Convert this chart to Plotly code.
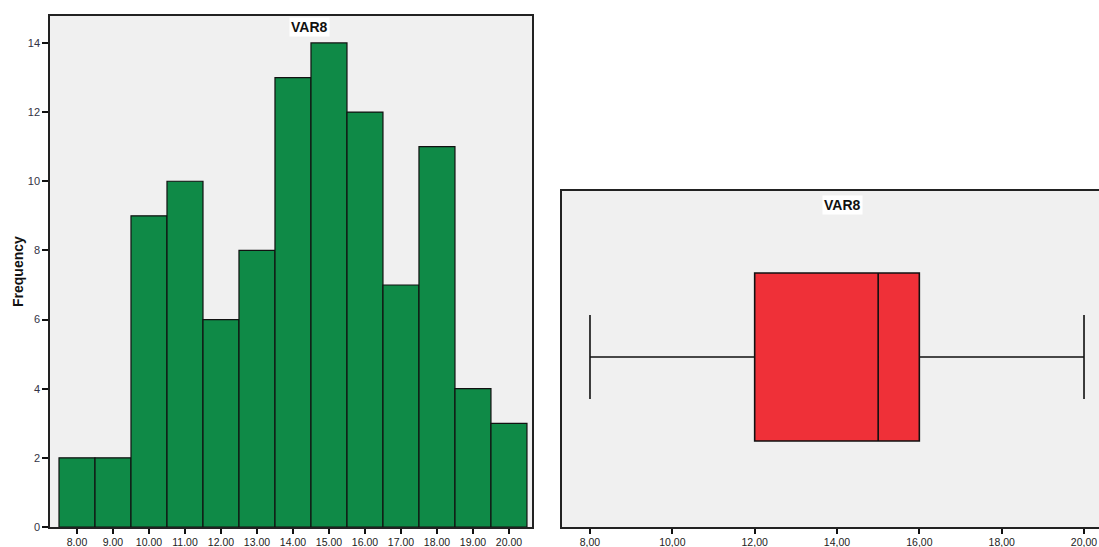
import plotly.graph_objects as go

# Histogram data
bin_centers = [8, 9, 10, 11, 12, 13, 14, 15, 16, 17, 18, 19, 20]
frequencies = [2, 2, 9, 10, 6, 8, 13, 14, 12, 7, 11, 4, 3]
hist_tick_labels = ["8.00", "9.00", "10.00", "11.00", "12.00", "13.00", "14.00",
                    "15.00", "16.00", "17.00", "18.00", "19.00", "20.00"]
y_ticks = [0, 2, 4, 6, 8, 10, 12, 14]

# Box plot summary
box_min = [8]
box_q1 = [12]
box_median = [15]
box_q3 = [16]
box_max = [20]
box_ticks = [8, 10, 12, 14, 16, 18, 20]
box_tick_labels = ["8,00", "10,00", "12,00", "14,00", "16,00", "18,00", "20,00"]

W, H = 1099, 547
def fx(px):
    return px / W
def fy(py):
    return (H - py) / H

fig = go.Figure()

fig.add_trace(go.Bar(
    x=bin_centers, y=frequencies, width=1,
    marker=dict(color="#0f8a47", line=dict(color="#111", width=1.2)),
    xaxis="x", yaxis="y", showlegend=False,
))

fig.add_trace(go.Box(
    y=[0], q1=box_q1, median=box_median, q3=box_q3,
    lowerfence=box_min, upperfence=box_max,
    orientation="h", width=1.0, whiskerwidth=0.5,
    fillcolor="#ef3038", line=dict(color="#111", width=1.6),
    xaxis="x2", yaxis="y2", showlegend=False, boxpoints=False,
))

font_family = "Liberation Sans, Arial, sans-serif"

common = dict(showgrid=False, zeroline=False, automargin=False,
              showline=True, linecolor="#222", linewidth=1.5, mirror=True)

fig.update_layout(
    width=W, height=H,
    margin=dict(l=0, r=0, t=0, b=0),
    paper_bgcolor="white",
    plot_bgcolor="#f0f0f0",
    font=dict(family=font_family, size=11, color="#222"),
    xaxis=dict(
        domain=[fx(50), fx(532)], anchor="y",
        range=[7.25, 20.64],
        tickmode="array", tickvals=bin_centers, ticktext=hist_tick_labels,
        ticks="outside", ticklen=5, tickwidth=2, tickcolor="#111",
        tickfont=dict(size=10.5, color="#222"),
        **common,
    ),
    yaxis=dict(
        domain=[fy(527), fy(16)], anchor="x",
        range=[0, 14.78],
        tickmode="array", tickvals=y_ticks,
        ticks="outside", ticklen=6, tickwidth=2, tickcolor="#111",
        tickfont=dict(size=11, color="#334"),
        **common,
    ),
    xaxis2=dict(
        domain=[fx(562), 1.0], anchor="y2",
        range=[7.32, 20.364],
        tickmode="array", tickvals=box_ticks, ticktext=box_tick_labels,
        ticks="outside", ticklen=5, tickwidth=2, tickcolor="#111",
        tickfont=dict(size=10.5, color="#222"),
        **common,
    ),
    yaxis2=dict(
        domain=[fy(527), fy(191)], anchor="x2",
        range=[-1.012, 0.988],
        showticklabels=False, ticks="",
        **common,
    ),
    annotations=[
        dict(text="<b>VAR8</b>", x=fx(309), y=fy(27), xref="paper", yref="paper",
             showarrow=False, bgcolor="white", font=dict(size=14, color="#111"),
             xanchor="center", yanchor="middle", borderpad=1),
        dict(text="<b>VAR8</b>", x=fx(842), y=fy(205), xref="paper", yref="paper",
             showarrow=False, bgcolor="white", font=dict(size=14, color="#111"),
             xanchor="center", yanchor="middle", borderpad=1),
        dict(text="<b>Frequency</b>", x=fx(18), y=fy(272), xref="paper", yref="paper",
             showarrow=False, textangle=-90, font=dict(size=14, color="#111"),
             xanchor="center", yanchor="middle"),
    ],
)

fig.write_html(
    "out.html",
    config={"displayModeBar": False},
    post_script="document.body.style.margin='0';document.body.style.overflow='hidden';",
)
